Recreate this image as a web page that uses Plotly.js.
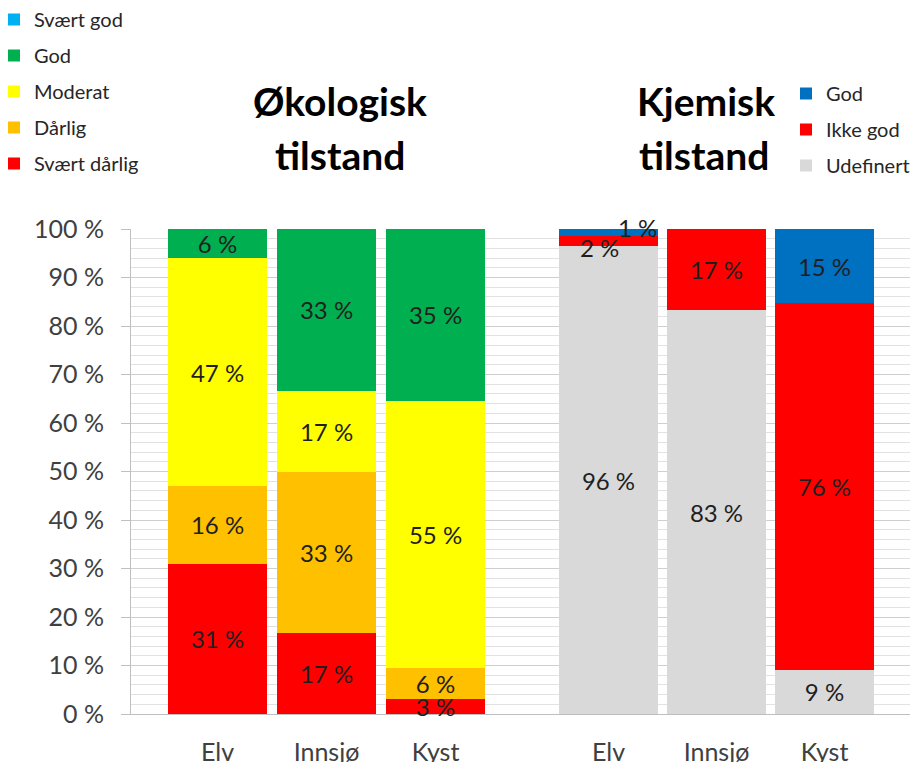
<!DOCTYPE html>
<html>
<head>
<meta charset="utf-8">
<script src="https://cdn.plot.ly/plotly-3.0.1.min.js"></script>
<style>html,body{margin:0;padding:0;background:#fff;}#chart{width:918px;height:762px;}</style>
</head>
<body>
<div id="chart"></div>
<script>
// ---- Data ----
var categories = ["Elv", "Innsjø", "Kyst"];

// Økologisk tilstand (percent)
var okoSvaertDarlig = [31, 16.7, 3.1];
var okoDarlig       = [16, 33.3, 6.4];
var okoModerat      = [47, 16.7, 55.1];
var okoGod          = [6, 33.3, 35.4];
var okoSvaertGod    = [0, 0, 0];

// Kjemisk tilstand (percent)
var kjemUdefinert = [96.4, 83.3, 9.1];
var kjemIkkeGod   = [2.2, 16.7, 75.6];
var kjemGod       = [1.4, 0, 15.3];

var FONT = "Lato, 'Open Sans', sans-serif";
var TXT = "#1f1f1f";

function labels(arr, skip) {
  return arr.map(function (v, i) {
    if (v <= 0) return "";
    if (skip && skip.indexOf(i) >= 0) return "";
    return Math.round(v) + " %";
  });
}

function barTrace(name, vals, color, xaxis, legend, rank, skip) {
  return {
    type: "bar",
    name: name,
    x: categories,
    y: vals,
    xaxis: xaxis,
    yaxis: "y",
    legend: legend,
    legendgroup: legend + name,
    legendrank: rank,
    marker: { color: color, line: { width: 0 } },
    text: labels(vals, skip),
    textposition: "inside",
    insidetextanchor: "middle",
    textangle: 0,
    textfont: { family: FONT, size: 24, color: TXT },
    hoverinfo: "name+y",
    cliponaxis: false
  };
}

var traces = [
  // empty trace spanning the full plot width (axis frame + gridlines)
  { type: "scatter", x: [], y: [], xaxis: "x", yaxis: "y", showlegend: false, hoverinfo: "skip" },

  barTrace("Svært dårlig", okoSvaertDarlig, "#FF0000", "x2", "legend", 5),
  barTrace("Dårlig", okoDarlig, "#FFC000", "x2", "legend", 4),
  barTrace("Moderat", okoModerat, "#FFFF00", "x2", "legend", 3),
  barTrace("God", okoGod, "#00B050", "x2", "legend", 2),
  barTrace("Svært god", okoSvaertGod, "#00B0F0", "x2", "legend", 1),

  barTrace("Udefinert", kjemUdefinert, "#D9D9D9", "x3", "legend2", 3),
  barTrace("Ikke god", kjemIkkeGod, "#FF0000", "x3", "legend2", 2, [0]),
  barTrace("God", kjemGod, "#0070C0", "x3", "legend2", 1, [0])
];

// offset labels for the thin segments of the chemical "Elv" bar
var elvIkkeCenter = kjemUdefinert[0] + kjemIkkeGod[0] / 2;
var elvGodCenter = kjemUdefinert[0] + kjemIkkeGod[0] + kjemGod[0] / 2;

var W = 779, H = 485;
function px(p) { return (p - 131) / W; }
function py(p) { return (714 - p) / H; }

var layout = {
  width: 918,
  height: 762,
  margin: { l: 131, r: 8, t: 229, b: 48, autoexpand: false },
  paper_bgcolor: "#ffffff",
  plot_bgcolor: "rgba(0,0,0,0)",
  font: { family: FONT, color: "#404040" },
  barmode: "stack",
  bargap: 0.09,
  showlegend: true,
  xaxis: {
    domain: [0, 1],
    anchor: "y",
    range: [0, 1],
    showgrid: false,
    zeroline: false,
    showticklabels: false,
    ticks: "",
    showline: true,
    linecolor: "#BFBFBF",
    linewidth: 1,
    automargin: false
  },
  xaxis2: {
    domain: [px(163), px(490)],
    anchor: "y",
    type: "category",
    range: [-0.5, 2.5],
    showgrid: false,
    zeroline: false,
    ticks: "",
    ticklabelstandoff: 21,
    tickfont: { family: FONT, size: 25, color: "#404040" },
    showline: false,
    automargin: false
  },
  xaxis3: {
    domain: [px(554.5), px(878.5)],
    anchor: "y",
    type: "category",
    range: [-0.5, 2.5],
    showgrid: false,
    zeroline: false,
    ticks: "",
    ticklabelstandoff: 21,
    tickfont: { family: FONT, size: 25, color: "#404040" },
    showline: false,
    automargin: false
  },
  yaxis: {
    anchor: "x",
    range: [0, 100],
    dtick: 10,
    ticksuffix: " %",
    ticks: "outside",
    ticklen: 9,
    tickcolor: "#BFBFBF",
    tickwidth: 1,
    ticklabelstandoff: 12,
    tickfont: { family: FONT, size: 25, color: "#404040" },
    showline: true,
    linecolor: "#BFBFBF",
    linewidth: 1,
    showgrid: true,
    gridcolor: "#CFCFCF",
    gridwidth: 1,
    zeroline: false,
    automargin: false,
    minor: { dtick: 2, showgrid: true, gridcolor: "#E2E2E2", gridwidth: 1, ticks: "" }
  },
  legend: {
    x: px(-6), y: py(0), xanchor: "left", yanchor: "top",
    traceorder: "grouped",
    tracegroupgap: 7,
    font: { family: FONT, size: 20, color: "#262626" },
    bgcolor: "rgba(0,0,0,0)",
    itemclick: false, itemdoubleclick: false
  },
  legend2: {
    x: px(786), y: py(74), xanchor: "left", yanchor: "top",
    traceorder: "grouped",
    tracegroupgap: 7,
    font: { family: FONT, size: 20, color: "#262626" },
    bgcolor: "rgba(0,0,0,0)",
    itemclick: false, itemdoubleclick: false
  },
  annotations: [
    { text: "<b>Økologisk</b>", xref: "paper", yref: "paper",
      x: px(340), y: py(101), xanchor: "center", yanchor: "middle",
      showarrow: false, font: { family: FONT, size: 39, color: "#000000" } },
    { text: "<b>tilstand</b>", xref: "paper", yref: "paper",
      x: px(340), y: py(155), xanchor: "center", yanchor: "middle",
      showarrow: false, font: { family: FONT, size: 39, color: "#000000" } },
    { text: "<b>Kjemisk</b>", xref: "paper", yref: "paper",
      x: px(706), y: py(101), xanchor: "center", yanchor: "middle",
      showarrow: false, font: { family: FONT, size: 39, color: "#000000" } },
    { text: "<b>tilstand</b>", xref: "paper", yref: "paper",
      x: px(704), y: py(155), xanchor: "center", yanchor: "middle",
      showarrow: false, font: { family: FONT, size: 39, color: "#000000" } },
    { text: Math.round(kjemIkkeGod[0]) + " %", xref: "x3", yref: "y",
      x: categories[0], y: elvIkkeCenter, xshift: -9, yshift: -6,
      showarrow: false, font: { family: FONT, size: 24, color: TXT } },
    { text: Math.round(kjemGod[0]) + " %", xref: "x3", yref: "y",
      x: categories[0], y: elvGodCenter, xshift: 29, yshift: 5,
      showarrow: false, font: { family: FONT, size: 24, color: TXT } }
  ],
  uniformtext: { mode: "show", minsize: 24 }
};

Plotly.newPlot("chart", traces, layout, { displayModeBar: false, staticPlot: true });
</script>
</body>
</html>
